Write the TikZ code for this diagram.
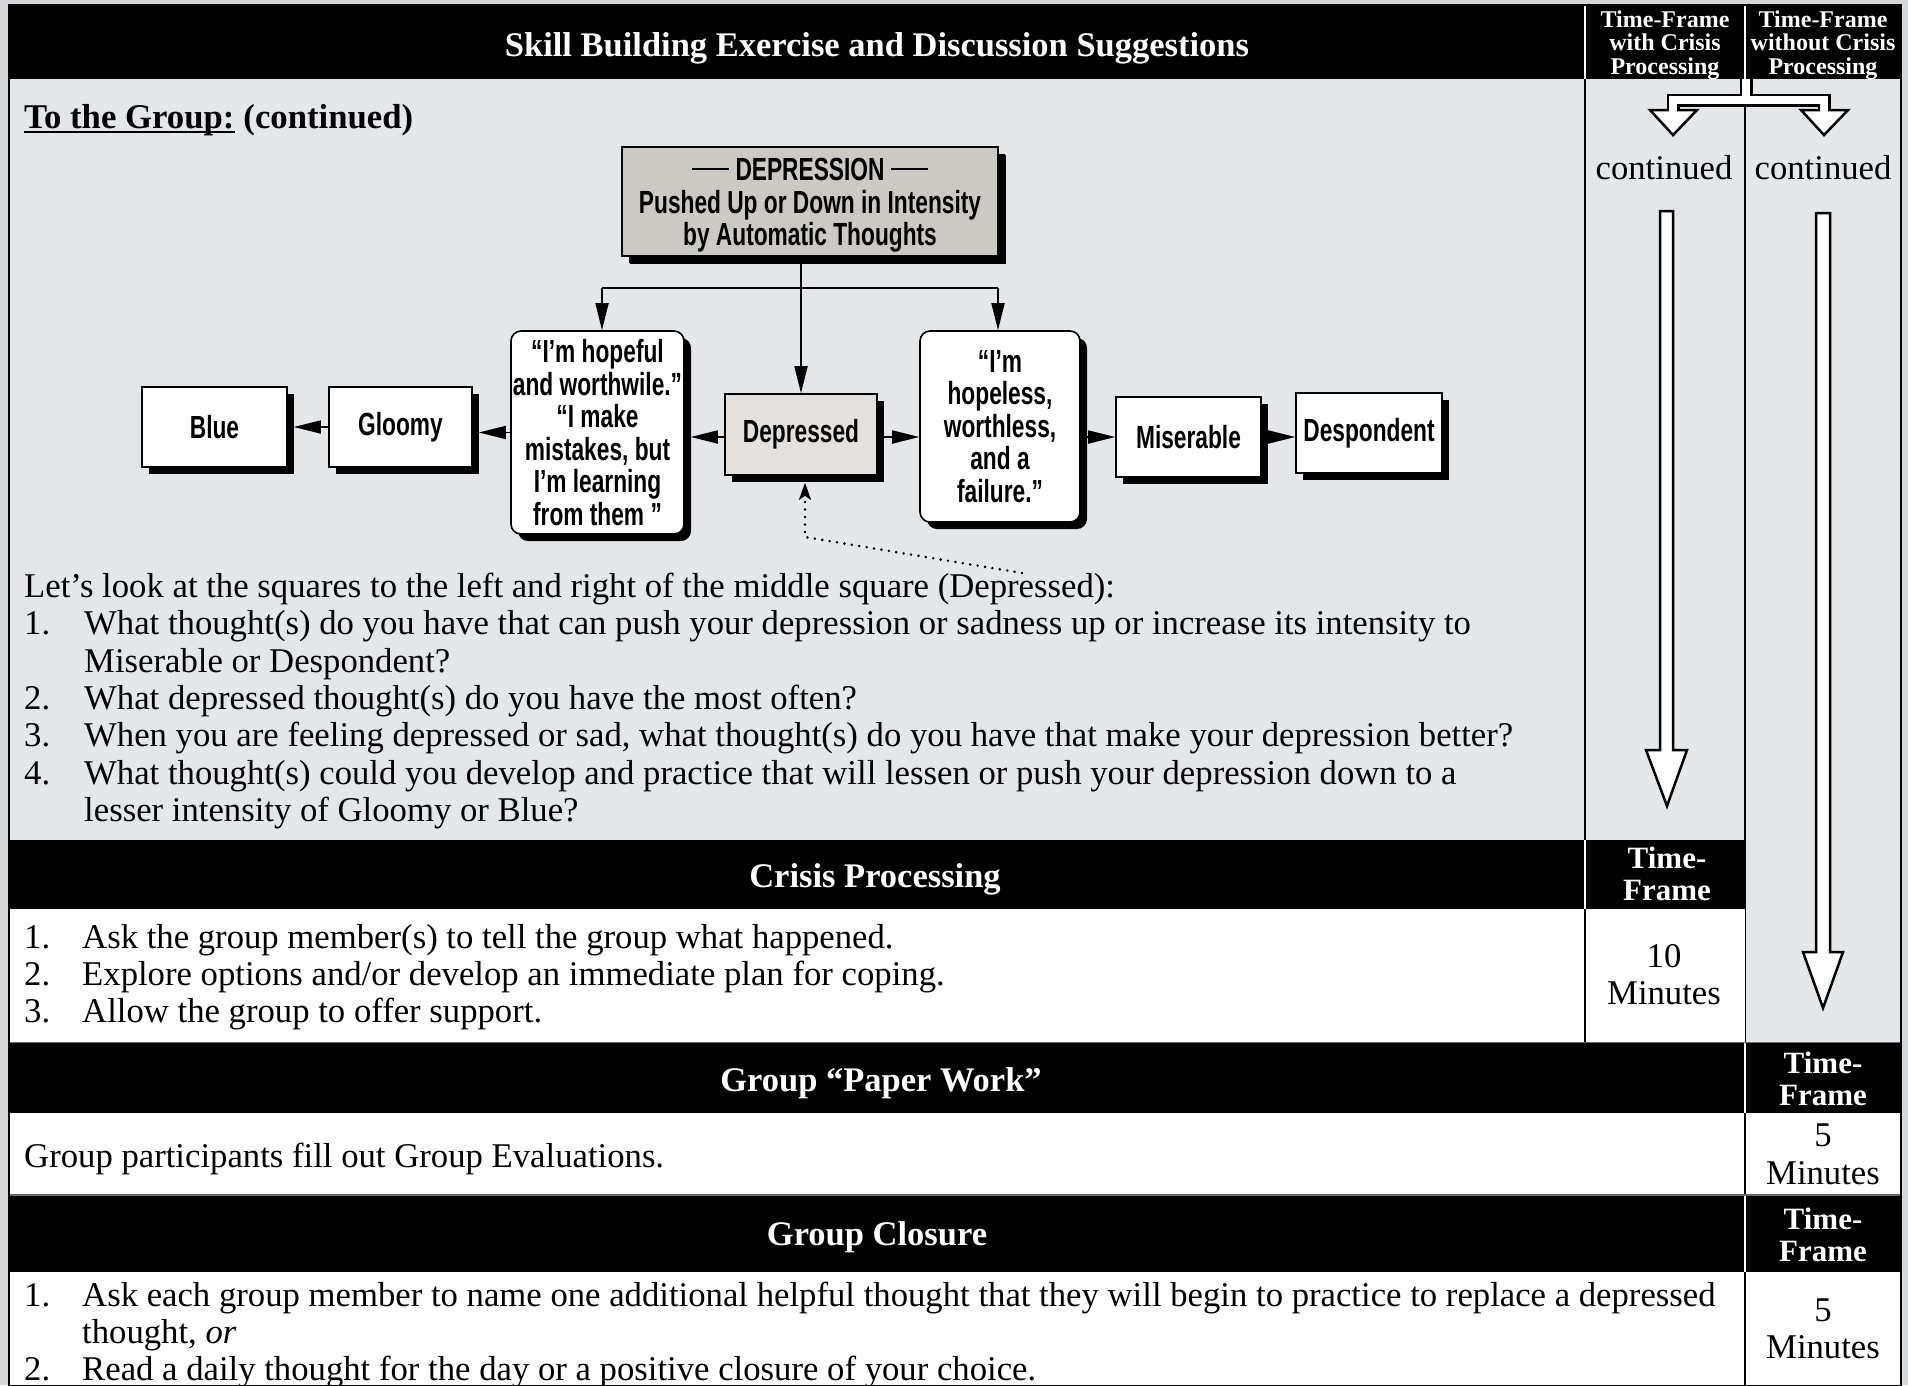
\documentclass[tikz,border=0pt]{standalone}
\usepackage{fontspec}
\setmainfont{Liberation Serif}
\newfontfamily\dfont[FakeStretch=0.71]{Liberation Sans}
\usetikzlibrary{shadows,arrows.meta,calc}
\definecolor{pagegray}{HTML}{D5D6D8}
\definecolor{cellgray}{HTML}{E5E6E8}
\definecolor{titlefill}{HTML}{CCC8C4}
\definecolor{depfill}{HTML}{E3E0DD}
\newcommand\bodyfs{\fontsize{34.7}{37.4}\selectfont}
\newcommand\headfs{\bfseries\fontsize{34.5}{37}\selectfont}
\newcommand\tffs{\bfseries\fontsize{31}{32}\selectfont}
\newcommand\smallhd{\bfseries\fontsize{24}{23.5}\selectfont}
\newcommand\boxfs{\dfont\bfseries\fontsize{32}{32.5}\selectfont}
\begin{document}
\begin{tikzpicture}[x=1pt,y=-1pt,
  txt/.style={anchor=base west, inner sep=0pt, font=\bodyfs},
  ctxt/.style={anchor=base, inner sep=0pt, font=\bodyfs},
  hd/.style={anchor=base, inner sep=0pt, font=\headfs, text=white},
  tfh/.style={anchor=base, inner sep=0pt, font=\tffs, text=white},
  sh/.style={anchor=base, inner sep=0pt, font=\smallhd, text=white},
  box/.style={draw=black, line width=1.6pt, fill=white, inner sep=0pt, align=center, font=\boxfs,
    drop shadow={shadow xshift=7pt, shadow yshift=-7pt, fill=black, opacity=1}},
  rbox/.style={box, rounded corners=10pt},
  arr/.style={line width=1.8pt, -{Triangle[length=27pt,width=13pt]}},
  dotarr/.style={line width=2.8pt, line cap=round, dash pattern=on 0pt off 7.5pt, -{Stealth[length=17pt,width=12pt,inset=4pt]}},
  hollow/.style={line width=2.5pt, draw=black, fill=white, line join=miter}
]
% ---------- background and table ----------
\fill[pagegray] (0,0) rectangle (1908,1385);
\useasboundingbox (0,0) rectangle (1908,1385);
\fill[cellgray] (9,79) rectangle (1901,1043);
\fill[black] (9,5) rectangle (1901,79);
\draw[white, line width=2.5pt] (1585,5) -- (1585,79) (1745,5) -- (1745,79);
\draw[line width=2pt] (1585,79) -- (1585,840);
\draw[line width=2pt] (1745,104) -- (1745,1043);
\fill[black] (9,840) rectangle (1745,909);
\fill[white] (9,909) rectangle (1745,1042);
\draw[white, line width=2.5pt] (1585,840) -- (1585,909);
\draw[line width=2pt] (1585,909) -- (1585,1042);
\fill[black] (9,1043) rectangle (1901,1113);
\fill[white] (9,1113) rectangle (1901,1195);
\fill[black] (9,1195) rectangle (1901,1272);
\fill[white] (9,1272) rectangle (1901,1385);
\draw[white, line width=2.5pt] (1745,1043) -- (1745,1113) (1745,1195) -- (1745,1272);
\draw[line width=2pt] (1745,1113) -- (1745,1195) (1745,1272) -- (1745,1385);
\draw[black!60, line width=1.5pt] (9,1042.5) -- (1901,1042.5) (9,1195) -- (1901,1195);
\draw[line width=2pt] (9,5) rectangle (1901,1386);

% ---------- header texts ----------
\node[hd] (h1) at (877,56) {Skill Building Exercise and Discussion Suggestions};
\node[sh] (h2a) at (1665,27) {Time-Frame};
\node[sh] (h2b) at (1665,50.5) {with Crisis};
\node[sh] (h2c) at (1665,74) {Processing};
\node[sh] (h3a) at (1823,27) {Time-Frame};
\node[sh] (h3b) at (1823,50.5) {without Crisis};
\node[sh] (h3c) at (1823,74) {Processing};

% ---------- hollow arrows in right columns ----------
\draw[line width=13pt, line join=miter] (1746,79) -- (1746,100) -- (1673,100) -- (1673,113);
\draw[line width=13pt, line join=miter] (1746,100) -- (1824,100) -- (1824,113);
\draw[white, line width=8pt, line join=miter] (1746,79) -- (1746,100) -- (1673,100) -- (1673,113);
\draw[white, line width=8pt, line join=miter] (1746,100) -- (1824,100) -- (1824,113);
\draw[hollow] (1650,110) -- (1697,110) -- (1673,135) -- cycle;
\draw[hollow] (1801,110) -- (1848,110) -- (1824,135) -- cycle;
\draw[white, line width=8pt] (1673,104) -- (1673,114) (1824,104) -- (1824,114);
\node[ctxt] (cont2) at (1664,179) {continued};
\node[ctxt] (cont3) at (1823,179) {continued};
\draw[hollow] (1660,211) -- (1673,211) -- (1673,750) -- (1687,750) -- (1667,806) -- (1646,750) -- (1660,750) -- cycle;
\draw[hollow] (1816,213) -- (1830,213) -- (1830,952) -- (1843,952) -- (1823,1008) -- (1803,952) -- (1816,952) -- cycle;

% ---------- To the group ----------
\node[txt, font=\bfseries\fontsize{34.7}{37}\selectfont] (tg) at (24,128) {To the Group:};
\node[txt, font=\bfseries\fontsize{34.7}{37}\selectfont, anchor=base west] (tgc) at ($(tg.base east)+(8.7,0)$) {(continued)};
\draw[line width=2pt] ($(tg.base west)+(0,4)$) -- ($(tg.base east)+(0,4)$);

% ---------- diagram ----------
\node[box, fill=titlefill, minimum width=376pt, minimum height=109pt, drop shadow={shadow xshift=8pt, shadow yshift=-8pt, fill=black, opacity=1}] (title) at (810,201.5)
  {\raisebox{-5pt}[\height][\depth]{\begin{tabular}{@{}c@{}}\rule[10.5pt]{37pt}{2pt} DEPRESSION \rule[10.5pt]{37pt}{2pt}\\Pushed Up or Down in Intensity\\by Automatic Thoughts\end{tabular}}};
\node[box, minimum width=145pt, minimum height=80pt] (blue) at (214.5,427) {Blue};
\node[box, minimum width=143pt, minimum height=80pt] (gloomy) at (400.5,427) {Gloomy};
\node[rbox, minimum width=173pt, minimum height=203pt] (hopeful) at (597.5,432.5)
  {“I’m hopeful\\and worthwile.”\\“I make\\mistakes, but\\I’m learning\\from them ”};
\node[box, fill=depfill, minimum width=152pt, minimum height=81pt] (depressed) at (801,434.5) {Depressed};
\node[rbox, minimum width=160pt, minimum height=191pt] (hopeless) at (1000,426.5)
  {“I’m\\hopeless,\\worthless,\\and a\\failure.”};
\node[box, minimum width=145pt, minimum height=80pt] (miserable) at (1188.5,437) {Miserable};
\node[box, minimum width=146pt, minimum height=80pt] (despondent) at (1369,433) {Despondent};

\coordinate (jl) at (602,288);
\coordinate (jr) at (998,288);
\draw[line width=1.8pt] (jl) -- (jr);
\draw[arr] (depressed.north |- title.south) -- (depressed.north);
\draw[arr] (jl) -- (jl |- hopeful.north);
\draw[arr] (jr) -- (jr |- hopeless.north);
\draw[arr] (gloomy.west) -- ($(gloomy.west -| blue.east)+(6,0)$);
\draw[arr] (hopeful.west) -- ($(hopeful.west -| gloomy.east)+(6,0)$);
\draw[arr] ($(depressed.west)+(0,2.5)$) -- ($(depressed.west -| hopeful.east)+(6,2.5)$);
\draw[arr] ($(depressed.east)+(0,2.5)$) -- ($(depressed.east -| hopeless.west)+(0,2.5)$);
\draw[arr] ($(miserable.west -| hopeless.east)+(6,0)$) -- (miserable.west);
\draw[arr] (miserable.east) -- (miserable.east -| despondent.west);
\coordinate (dstart) at (1022,573);
\coordinate (dc) at (805,537);
\draw[dotarr] (dstart) -- (dc) -- ($(dc |- depressed.south)+(0,7)$);

% ---------- discussion text ----------
\node[txt] (l0) at (24,597.3) {Let’s look at the squares to the left and right of the middle square (Depressed):};
\node[txt] (n1) at (24,634.7) {1.};
\node[txt] (l1) at (84,634.7) {What thought(s) do you have that can push your depression or sadness up or increase its intensity to};
\node[txt] (l1b) at (84,672.1) {Miserable or Despondent?};
\node[txt] (n2) at (24,709.5) {2.};
\node[txt] (l2) at (84,709.5) {What depressed thought(s) do you have the most often?};
\node[txt] (n3) at (24,746.9) {3.};
\node[txt] (l3) at (84,746.9) {When you are feeling depressed or sad, what thought(s) do you have that make your depression better?};
\node[txt] (n4) at (24,784.3) {4.};
\node[txt] (l4) at (84,784.3) {What thought(s) could you develop and practice that will lessen or push your depression down to a};
\node[txt] (l4b) at (84,821.7) {lesser intensity of Gloomy or Blue?};

% ---------- crisis processing ----------
\node[hd] (cp) at (875,887) {Crisis Processing};
\node[tfh] (cpa) at (1667,868) {Time-};
\node[tfh] (cpb) at (1667,900) {Frame};
\node[txt] (c1n) at (24,948) {1.};
\node[txt] (c1) at (82,948) {Ask the group member(s) to tell the group what happened.};
\node[txt] (c2n) at (24,985) {2.};
\node[txt] (c2) at (82,985) {Explore options and/or develop an immediate plan for coping.};
\node[txt] (c3n) at (24,1022) {3.};
\node[txt] (c3) at (82,1022) {Allow the group to offer support.};
\node[ctxt] (ct1) at (1664,967) {10};
\node[ctxt] (ct2) at (1664,1004) {Minutes};

% ---------- paper work ----------
\node[hd] (pw) at (881,1091) {Group “Paper Work”};
\node[tfh] (pwa) at (1823,1073) {Time-};
\node[tfh] (pwb) at (1823,1105) {Frame};
\node[txt] (p1) at (24,1167) {Group participants fill out Group Evaluations.};
\node[ctxt] (pt1) at (1823,1146) {5};
\node[ctxt] (pt2) at (1823,1184) {Minutes};

% ---------- closure ----------
\node[hd] (gc) at (877,1245) {Group Closure};
\node[tfh] (gca) at (1823,1229) {Time-};
\node[tfh] (gcb) at (1823,1261) {Frame};
\node[txt] (g1n) at (24,1306) {1.};
\node[txt] (g1) at (82,1306) {Ask each group member to name one additional helpful thought that they will begin to practice to replace a depressed};
\node[txt] (g1b) at (82,1343) {thought, \textit{or}};
\node[txt] (g2n) at (24,1380) {2.};
\node[txt] (g2) at (82,1380) {Read a daily thought for the day or a positive closure of your choice.};
\node[ctxt] (gt1) at (1823,1321) {5};
\node[ctxt] (gt2) at (1823,1358) {Minutes};
\end{tikzpicture}
\end{document}
